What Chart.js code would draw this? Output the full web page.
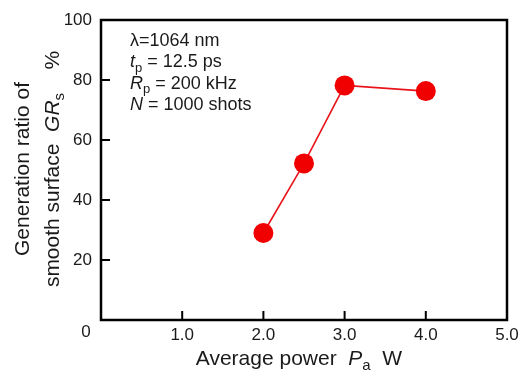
<!DOCTYPE html>
<html>
<head>
<meta charset="utf-8">
<script src="https://cdn.jsdelivr.net/npm/chart.js@4/dist/chart.umd.min.js"></script>
<style>
  html, body { margin: 0; padding: 0; background: #fff; }
  #wrap { width: 526px; height: 372px; position: relative; }
</style>
</head>
<body>
<div id="wrap"><canvas id="chart"></canvas></div>
<script>
const powers = [2.0, 2.5, 3.0, 4.0];
const ratios = [29, 52.2, 78.2, 76.3];
const xTicks = [0, 1, 2, 3, 4, 5];
const yTicks = [0, 20, 40, 60, 80, 100];
const notes = [
  [{ t: 'λ=1064 nm' }],
  [{ t: 't', i: true }, { t: 'p', sub: true }, { t: ' = 12.5 ps' }],
  [{ t: 'R', i: true }, { t: 'p', sub: true }, { t: ' = 200 kHz' }],
  [{ t: 'N', i: true }, { t: ' = 1000 shots' }]
];
const xTitle = [{ t: 'Average power  ' }, { t: 'P', i: true }, { t: 'a', sub: true }, { t: '  W' }];
const yTitle1 = [{ t: 'Generation ratio of' }];
const yTitle2 = [{ t: 'smooth surface  ' }, { t: 'GR', i: true }, { t: 's', sub: true }, { t: '    %' }];

const FAM = '"Liberation Sans", Arial, sans-serif';
const txtClr = '#1a1a1a';

function runFont(r, size) {
  const s = r.sub ? Math.round(size * 0.7) : size;
  return (r.i ? 'italic ' : '') + s + 'px ' + FAM;
}
function runsWidth(ctx, runs, size) {
  return runs.reduce((w, r) => { ctx.font = runFont(r, size); return w + ctx.measureText(r.t).width; }, 0);
}
function drawRuns(ctx, runs, x, y, size) {
  runs.forEach(r => {
    ctx.font = runFont(r, size);
    ctx.fillText(r.t, x, y + (r.sub ? size * 0.25 : 0));
    x += ctx.measureText(r.t).width;
  });
}

const decor = {
  id: 'decor',
  afterDraw(chart) {
    const { ctx, chartArea: a, scales } = chart;
    ctx.save();
    // inward tick marks
    ctx.strokeStyle = '#000'; ctx.lineWidth = 2;
    ctx.beginPath();
    scales.x.ticks.forEach(t => {
      const px = scales.x.getPixelForValue(t.value);
      ctx.moveTo(px, a.bottom); ctx.lineTo(px, a.bottom - 9);
    });
    scales.y.ticks.forEach(t => {
      const py = scales.y.getPixelForValue(t.value);
      ctx.moveTo(a.left, py); ctx.lineTo(a.left + 9, py);
    });
    ctx.stroke();
    // frame
    ctx.lineWidth = 2.5;
    ctx.strokeRect(a.left, a.top, a.right - a.left, a.bottom - a.top);

    ctx.fillStyle = txtClr;
    ctx.textBaseline = 'alphabetic';
    ctx.textAlign = 'left';
    // shared origin label
    ctx.font = '17px ' + FAM;
    ctx.textAlign = 'center';
    ctx.fillText('0', scales.x.getPixelForValue(0) - 15, a.bottom + 17);
    ctx.textAlign = 'left';

    // annotation
    notes.forEach((line, i) => drawRuns(ctx, line, a.left + 29, a.top + 26 + i * 21.4, 18));

    // x title
    const xw = runsWidth(ctx, xTitle, 21);
    drawRuns(ctx, xTitle, (a.left + a.right) / 2 - 5 - xw / 2, 365, 21);

    // y title (two rotated lines)
    [[yTitle1, 29], [yTitle2, 59]].forEach(([runs, bx]) => {
      const w = runsWidth(ctx, runs, 21);
      ctx.save();
      ctx.translate(bx, 169);
      ctx.rotate(-Math.PI / 2);
      drawRuns(ctx, runs, -w / 2, 0, 21);
      ctx.restore();
    });
    ctx.restore();
  }
};

new Chart(document.getElementById('chart'), {
  type: 'scatter',
  data: {
    datasets: [{
      data: powers.map((p, i) => ({ x: p, y: ratios[i] })),
      showLine: true,
      borderColor: '#e8141a',
      borderWidth: 1.6,
      pointRadius: 10,
      pointBackgroundColor: '#f00000',
      pointBorderColor: '#f00000',
      pointBorderWidth: 0
    }]
  },
  options: {
    responsive: true,
    maintainAspectRatio: false,
    animation: false,
    layout: { padding: { top: 20, right: 19, left: 0, bottom: 0 } },
    plugins: { legend: { display: false }, tooltip: { enabled: false } },
    scales: {
      x: {
        type: 'linear', min: 0, max: 5,
        afterBuildTicks: s => { s.ticks = xTicks.map(v => ({ value: v })); },
        afterFit: s => { s.height = 52; },
        grid: { display: false, drawTicks: false },
        border: { display: false },
        ticks: { color: txtClr, padding: 5, font: { size: 17, family: FAM }, callback: v => v === 0 ? '' : v.toFixed(1) }
      },
      y: {
        min: 0, max: 100,
        afterBuildTicks: s => { s.ticks = yTicks.map(v => ({ value: v })); },
        afterFit: s => { s.width = 101; },
        grid: { display: false, drawTicks: false },
        border: { display: false },
        ticks: { color: txtClr, padding: 9, font: { size: 17, family: FAM }, callback: v => v === 0 ? '' : v }
      }
    }
  },
  plugins: [decor]
});
</script>
</body>
</html>
